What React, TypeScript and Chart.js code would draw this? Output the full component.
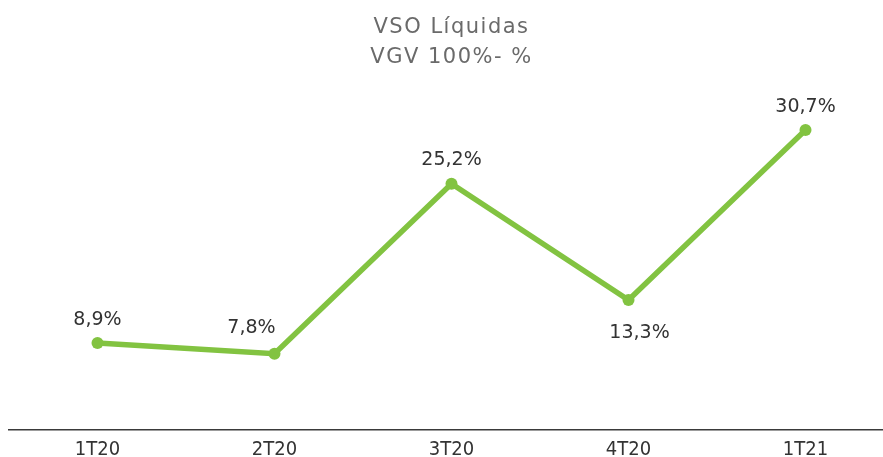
import React, { useEffect, useRef } from "react";
import { Chart, registerables } from "chart.js";

Chart.register(...registerables);

const categories = ["1T20", "2T20", "3T20", "4T20", "1T21"];
const vsoValues = [8.9, 7.8, 25.2, 13.3, 30.7];
const valueLabels = ["8,9%", "7,8%", "25,2%", "13,3%", "30,7%"];
const titleLines = ["VSO Líquidas", "VGV 100%- %"];

const GREEN = "#82c341";

const labelPlugin = {
  id: "valueLabels",
  afterDatasetsDraw(chart: any) {
    const ctx = chart.ctx;
    const meta = chart.getDatasetMeta(0);
    const dx = [0, -23, 0, 11, 0];
    const dy = [-18, -21, -19, 38, -18];
    ctx.save();
    ctx.font = "19px 'DejaVu Sans', sans-serif";
    ctx.fillStyle = "#333333";
    ctx.textAlign = "center";
    ctx.textBaseline = "alphabetic";
    meta.data.forEach((pt: any, i: number) => {
      ctx.fillText(valueLabels[i], pt.x + dx[i], pt.y + dy[i]);
    });
    ctx.restore();
  },
};

const titlePlugin = {
  id: "twoLineTitle",
  afterDraw(chart: any) {
    const ctx = chart.ctx;
    const cx = (chart.chartArea.left + chart.chartArea.right) / 2;
    ctx.save();
    ctx.font = "21px 'DejaVu Sans', sans-serif";
    (ctx as any).letterSpacing = "1.5px";
    ctx.fillStyle = "#6a6a6a";
    ctx.textAlign = "center";
    ctx.textBaseline = "alphabetic";
    ctx.fillText(titleLines[0], cx, 33);
    ctx.fillText(titleLines[1], cx, 63);
    ctx.restore();
  },
};

export default function App() {
  const ref = useRef<HTMLCanvasElement>(null);
  useEffect(() => {
    if (!ref.current) return;
    const chart = new Chart(ref.current, {
      type: "line",
      data: {
        labels: categories,
        datasets: [
          {
            data: vsoValues,
            borderColor: GREEN,
            backgroundColor: GREEN,
            borderWidth: 5.5,
            pointRadius: 6,
            pointHoverRadius: 6,
            pointBackgroundColor: GREEN,
            pointBorderColor: GREEN,
            pointBorderWidth: 0,
            tension: 0,
            fill: false,
          },
        ],
      },
      options: {
        animation: false,
        responsive: false,
        maintainAspectRatio: false,
        layout: { padding: { left: 9, right: 5, top: 88, bottom: 2 } },
        plugins: {
          legend: { display: false },
          title: { display: false },
          tooltip: { enabled: false },
        },
        scales: {
          x: {
            offset: true,
            grid: { display: false, drawTicks: false },
            border: { display: true, color: "#3a3a3a", width: 1.5 },
            ticks: {
              color: "#333333",
              padding: 8,
              font: { family: "'DejaVu Sans Condensed'", size: 20 },
            },
            afterFit: (scale: any) => {
              scale.height = 25;
            },
          },
          y: {
            display: false,
            min: 0,
            max: 35,
          },
        },
      },
      plugins: [labelPlugin, titlePlugin],
    });
    return () => chart.destroy();
  }, []);
  return (
    <div style={{ position: "fixed", left: 0, top: 0, width: 883, height: 457, overflow: "hidden", background: "#fff" }}>
      <canvas ref={ref} width={900} height={457} style={{ display: "block" }} />
    </div>
  );
}
